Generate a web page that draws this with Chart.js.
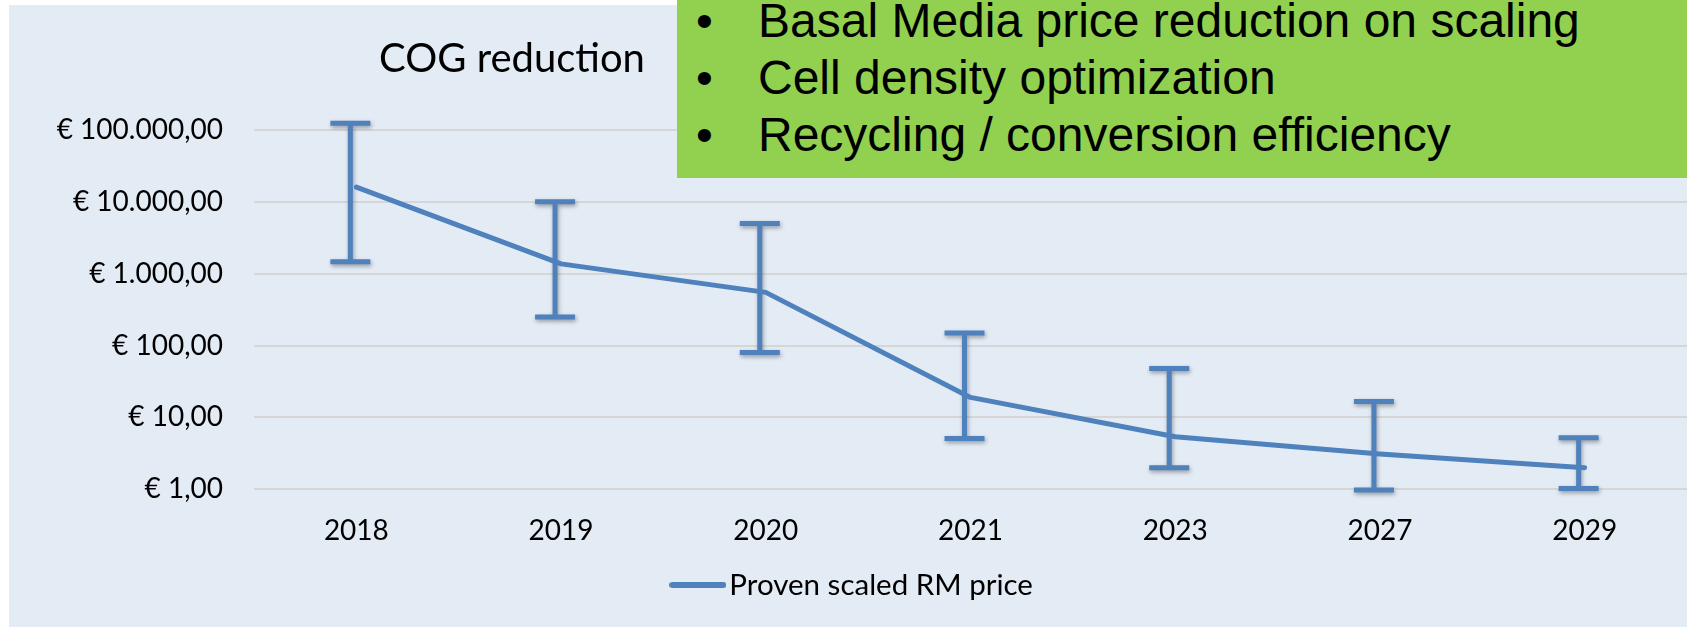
<!DOCTYPE html>
<html>
<head>
<meta charset="utf-8">
<script src="https://cdn.jsdelivr.net/npm/chart.js@4/dist/chart.umd.min.js"></script>
<style>
  html, body { margin: 0; padding: 0; background: #ffffff; }
  #wrap { position: relative; width: 1687px; height: 627px; overflow: hidden; }
  #c { position: absolute; left: 0; top: 0; }
  #title { position: absolute; left: 379px; top: 33px; font-family: Lato, sans-serif; font-size: 40px; line-height: 1.2; color: #000; white-space: nowrap; }
  #note { position: absolute; left: 677px; top: 0; width: 1010px; height: 178px; background: #92D050; overflow: hidden; }
  #note .lines { position: absolute; left: 0; top: -7.6px; }
  #note .ln { position: relative; height: 57px; line-height: 57px; font-family: "Liberation Sans", Arial, sans-serif; font-size: 48px; color: #000; white-space: nowrap; }
  #note .b { position: absolute; left: 19px; }
  #note .t { position: absolute; left: 81px; }
</style>
</head>
<body>
<div id="wrap">
  <canvas id="c" width="1687" height="627"></canvas>
  <div id="title"></div>
  <div id="note"><div class="lines" id="lines"></div></div>
</div>
<script>
// ---- data ----
const categories = ['2018', '2019', '2020', '2021', '2023', '2027', '2029'];
const priceValues = [16000, 1370, 550, 19, 5.4, 3.1, 2.0];
const errorHigh = [124000, 10000, 5000, 150, 48, 16.6, 5.2];
const errorLow = [1470, 250, 80, 5.1, 2.0, 0.98, 1.03];
const yTickValues = [1, 10, 100, 1000, 10000, 100000];
const yTickLabels = ['€ 1,00', '€ 10,00', '€ 100,00', '€ 1.000,00', '€ 10.000,00', '€ 100.000,00'];
const seriesLabel = 'Proven scaled RM price';
const titleText = 'COG reduction';
const noteLines = ['Basal Media price reduction on scaling', 'Cell density optimization', 'Recycling / conversion efficiency'];

// ---- styles ----
const BLUE = '#4F81BD';
const PANEL = '#E3EBF5';
const GRID = '#D6D6D6';

document.getElementById('title').textContent = titleText;
const linesEl = document.getElementById('lines');
noteLines.forEach(t => {
  const d = document.createElement('div');
  d.className = 'ln';
  const b = document.createElement('span'); b.className = 'b'; b.textContent = '•';
  const s = document.createElement('span'); s.className = 't'; s.textContent = t;
  d.appendChild(b); d.appendChild(s);
  linesEl.appendChild(d);
});

// legend symbol: short round-capped line
const legendSymbol = document.createElement('canvas');
legendSymbol.width = 57; legendSymbol.height = 8;
(function () {
  const g = legendSymbol.getContext('2d');
  g.strokeStyle = BLUE; g.lineWidth = 6; g.lineCap = 'round';
  g.beginPath(); g.moveTo(3, 4); g.lineTo(54, 4); g.stroke();
})();

const panelPlugin = {
  id: 'panel',
  beforeDraw(chart) {
    const ctx = chart.ctx;
    ctx.save();
    ctx.fillStyle = '#ffffff';
    ctx.fillRect(0, 0, chart.width, chart.height);
    ctx.fillStyle = PANEL;
    ctx.fillRect(9, 5, chart.width - 9, chart.height - 5);
    ctx.restore();
  }
};

const errorBarPlugin = {
  id: 'errorBars',
  beforeDatasetsDraw(chart, args, opts) {
    const ctx = chart.ctx;
    const xs = chart.scales.x, ys = chart.scales.y;
    ctx.save();
    ctx.strokeStyle = opts.color;
    ctx.lineWidth = opts.lineWidth;
    ctx.lineCap = 'butt';
    ctx.shadowColor = 'rgba(0,0,0,0.35)';
    ctx.shadowBlur = 4;
    ctx.shadowOffsetX = 1;
    ctx.shadowOffsetY = 2;
    categories.forEach((c, i) => {
      const px = xs.getPixelForValue(i) + opts.offsetX;
      const yHi = ys.getPixelForValue(errorHigh[i]);
      const yLo = ys.getPixelForValue(errorLow[i]);
      const hw = opts.capWidth / 2;
      ctx.beginPath();
      ctx.moveTo(px, yHi); ctx.lineTo(px, yLo);
      ctx.moveTo(px - hw, yHi); ctx.lineTo(px + hw, yHi);
      ctx.moveTo(px - hw, yLo); ctx.lineTo(px + hw, yLo);
      ctx.stroke();
    });
    ctx.restore();
  }
};

function build() {
  new Chart(document.getElementById('c'), {
    type: 'line',
    data: {
      labels: categories,
      datasets: [{
        label: seriesLabel,
        data: priceValues,
        borderColor: BLUE,
        backgroundColor: BLUE,
        borderWidth: 5,
        pointRadius: 0,
        pointHoverRadius: 0,
        tension: 0,
        fill: false,
        borderCapStyle: 'round',
        borderJoinStyle: 'round'
      }]
    },
    options: {
      responsive: false,
      animation: false,
      devicePixelRatio: 1,
      layout: { padding: { top: 130, left: 27, right: 0, bottom: 17.25 } },
      plugins: {
        title: { display: false },
        tooltip: { enabled: false },
        legend: {
          display: true,
          position: 'bottom',
          labels: {
            usePointStyle: true,
            pointStyle: legendSymbol,
            pointStyleWidth: 33.5,
            padding: 10,
            color: '#000',
            font: { family: 'Lato', size: 29.5 }
          }
        },
        errorBars: { color: BLUE, lineWidth: 5, capWidth: 40, offsetX: -6 }
      },
      scales: {
        x: {
          type: 'category',
          offset: true,
          grid: { display: false, drawTicks: false },
          border: { display: false },
          ticks: { color: '#000', font: { family: 'Lato', size: 28 }, padding: 25, maxRotation: 0 },
          afterFit(axis) { axis.height = 70.95; }
        },
        y: {
          type: 'logarithmic',
          min: 1,
          max: 100000,
          afterBuildTicks(axis) { axis.ticks = yTickValues.map(v => ({ value: v })); },
          grid: { color: GRID, lineWidth: 2, drawTicks: false },
          border: { display: false },
          ticks: {
            color: '#000',
            font: { family: 'Lato', size: 28 },
            padding: 31,
            callback(value) { const k = yTickValues.indexOf(value); return k >= 0 ? yTickLabels[k] : ''; }
          },
          afterFit(axis) { axis.width = 227; }
        }
      }
    },
    plugins: [panelPlugin, errorBarPlugin]
  });
}

Promise.all([
  document.fonts.load('28px Lato'),
  document.fonts.load('48px "Liberation Sans"')
]).then(build, build);
</script>
</body>
</html>
